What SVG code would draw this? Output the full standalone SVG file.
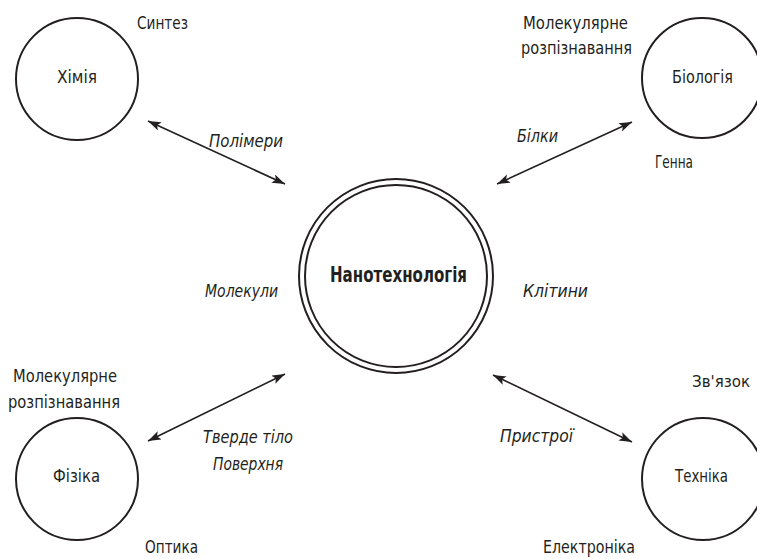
<svg xmlns="http://www.w3.org/2000/svg" width="757" height="559" viewBox="0 0 757 559">
<style>
text{font-family:"Liberation Sans Narrow","DejaVu Sans Condensed","Liberation Sans",sans-serif;font-size:18.5px;fill:#231f20}
.i{font-style:italic}
.b{font-weight:bold;font-size:22px}
.node{fill:#fff;stroke:#231f20;stroke-width:2}
.arr{stroke:#231f20;stroke-width:1.6;fill:none;marker-start:url(#ah);marker-end:url(#ah)}
</style>
<defs>
<marker id="ah" markerUnits="userSpaceOnUse" markerWidth="14" markerHeight="10" refX="13" refY="4.5" orient="auto-start-reverse">
<path d="M0,0 L13,4.5 L0,9 L3,4.5 z" fill="#231f20"/>
</marker>
</defs>
<rect width="757" height="559" fill="#fff"/>
<g id="connectors">
<line class="arr" x1="148" y1="121" x2="285" y2="184"/>
<line class="arr" x1="497" y1="184" x2="632" y2="122"/>
<line class="arr" x1="148" y1="441" x2="285" y2="374"/>
<line class="arr" x1="493" y1="375" x2="632" y2="442"/>
<text class="i" x="209" y="147" textLength="74" lengthAdjust="spacingAndGlyphs">Полімери</text>
<text class="i" x="517" y="142" textLength="41" lengthAdjust="spacingAndGlyphs">Білки</text>
<text class="i" x="205" y="297" textLength="73" lengthAdjust="spacingAndGlyphs">Молекули</text>
<text class="i" x="523" y="297" textLength="65" lengthAdjust="spacingAndGlyphs">Клітини</text>
<text class="i" x="203" y="443" textLength="90" lengthAdjust="spacingAndGlyphs">Тверде тіло</text>
<text class="i" x="213" y="470" textLength="70" lengthAdjust="spacingAndGlyphs">Поверхня</text>
<text class="i" x="500" y="442" textLength="73" lengthAdjust="spacingAndGlyphs">Пристрої</text>
</g>
<g id="nano">
<circle class="node" cx="396" cy="276" r="97"/>
<circle class="node" cx="396" cy="276" r="91"/>
<text class="b" x="330" y="282" textLength="137" lengthAdjust="spacingAndGlyphs">Нанотехнологія</text>
</g>
<g id="chemistry">
<circle class="node" cx="77" cy="79" r="61"/>
<text x="57" y="83" textLength="40" lengthAdjust="spacingAndGlyphs">Хімія</text>
<text x="137" y="29" textLength="51" lengthAdjust="spacingAndGlyphs">Синтез</text>
</g>
<g id="biology">
<circle class="node" cx="702" cy="78" r="60"/>
<text x="672" y="83" textLength="61" lengthAdjust="spacingAndGlyphs">Біологія</text>
<text x="523" y="29" textLength="105" lengthAdjust="spacingAndGlyphs">Молекулярне</text>
<text x="521" y="54" textLength="111" lengthAdjust="spacingAndGlyphs">розпізнавання</text>
<text x="655" y="168" textLength="38" lengthAdjust="spacingAndGlyphs">Генна</text>
</g>
<g id="physics">
<circle class="node" cx="77" cy="479" r="61"/>
<text x="53" y="482" textLength="47" lengthAdjust="spacingAndGlyphs">Фізіка</text>
<text x="13" y="382" textLength="104" lengthAdjust="spacingAndGlyphs">Молекулярне</text>
<text x="8" y="408" textLength="112" lengthAdjust="spacingAndGlyphs">розпізнавання</text>
<text x="145" y="553" textLength="53" lengthAdjust="spacingAndGlyphs">Оптика</text>
</g>
<g id="engineering">
<circle class="node" cx="703" cy="479" r="61"/>
<text x="675" y="482" textLength="53" lengthAdjust="spacingAndGlyphs">Техніка</text>
<text x="692" y="387" style="font-size:16.5px" textLength="58" lengthAdjust="spacingAndGlyphs">Зв'язок</text>
<text x="543" y="553" textLength="92" lengthAdjust="spacingAndGlyphs">Електроніка</text>
</g>
</svg>
